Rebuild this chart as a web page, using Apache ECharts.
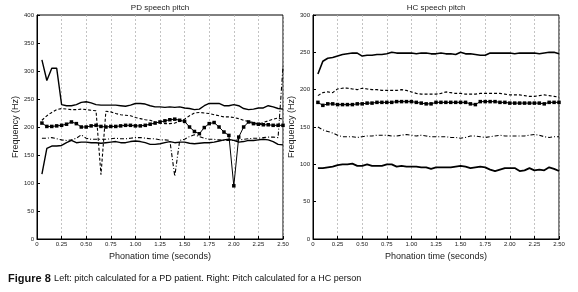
<!DOCTYPE html>
<html><head><meta charset="utf-8">
<script src="https://cdn.jsdelivr.net/npm/echarts@6/dist/echarts.min.js"></script>
<style>html,body{margin:0;padding:0;background:#fff}#c{width:578px;height:292px}</style>
</head><body><div id="c"></div>
<script>
const times = [0.05,0.10,0.15,0.20,0.25,0.30,0.35,0.40,0.45,0.50,0.55,0.60,0.65,0.70,0.75,0.80,0.85,0.90,0.95,1.00,1.05,1.10,1.15,1.20,1.25,1.30,1.35,1.40,1.45,1.50,1.55,1.60,1.65,1.70,1.75,1.80,1.85,1.90,1.95,2.00,2.05,2.10,2.15,2.20,2.25,2.30,2.35,2.40,2.45,2.50];

const pdSolidTop = [320,283,305,305,240,238,238,240,244,245,243,240,239,239,239,239,238,237,239,242,242,241,238,236,236,235,236,235,236,234,233,231,232,238,242,242,242,238,238,240,238,233,231,232,234,234,238,236,233,232];
const pdDashed = [212,220,226,231,233,232,231,231,232,231,230,229,115,228,227,224,222,221,220,217,215,213,212,209,207,206,206,207,210,214,220,225,226,225,224,222,220,218,218,217,215,212,210,208,205,208,211,214,216,214];
const pdSquares = [207,201,201,202,203,205,209,206,200,200,202,203,201,200,201,201,202,203,203,202,202,203,205,207,209,211,213,214,212,210,200,192,188,199,206,208,200,191,185,95,182,200,209,206,205,204,204,203,203,203];
const pdDashDot = [180,180,181,179,177,176,177,180,186,180,178,178,178,178,179,180,179,179,180,181,181,180,179,179,177,177,176,112,176,178,183,186,183,180,178,178,177,176,176,176,177,178,179,180,180,181,182,182,181,308];
const pdSolidLow = [116,162,166,166,167,172,176,172,173,173,172,172,171,172,173,174,172,172,174,175,174,172,169,169,170,172,174,172,173,173,171,170,171,172,172,173,175,177,178,176,173,174,176,176,177,178,177,174,169,168];

const hcSolidTop = [221,238,242,243,245,247,248,249,249,245,246,246,247,247,248,250,249,249,249,249,248,249,249,248,248,249,248,248,247,250,248,248,247,246,246,249,249,249,249,249,248,249,249,249,249,248,249,250,250,248];
const hcDashed = [192,196,197,196,201,202,202,201,200,202,201,200,200,199,199,199,199,200,199,197,195,194,194,194,194,195,197,196,195,195,194,194,194,195,195,195,195,195,194,193,193,193,192,191,191,192,193,192,191,190];
const hcSquares = [183,179,181,181,180,180,180,180,181,181,182,182,183,183,183,183,184,184,184,184,183,182,181,181,183,183,183,183,183,183,183,181,180,184,184,184,184,183,183,182,182,182,182,182,182,182,181,183,183,183];
const hcDashDot = [150,146,144,142,139,137,137,137,136,137,138,138,139,139,139,138,138,139,140,139,138,139,138,137,137,137,137,136,136,135,136,138,138,137,136,137,138,139,138,138,138,138,138,139,140,139,137,136,137,137];
const hcSolidLow = [95,95,96,97,99,100,100,101,98,98,100,98,98,98,100,100,97,98,97,97,97,96,96,94,96,96,96,96,97,98,97,95,96,97,96,93,91,93,95,95,95,91,92,95,92,93,92,96,94,91];

const titles = ['PD speech pitch','HC speech pitch'];
const yMax = [400, 300];

const pair = arr => arr.map((v,i)=>[times[i], v]);
const chart = echarts.init(document.getElementById('c'));
const FONT = 'Liberation Sans, Arial, sans-serif';

const grids = [
  {left:37, top:15, width:246, height:224, show:true, borderColor:'#000', borderWidth:1},
  {left:313, top:15, width:246, height:224, show:true, borderColor:'#000', borderWidth:1}
];
function xAxis(i){
  return {type:'value', gridIndex:i, min:0, max:2.5, interval:0.25,
    name:'Phonation time (seconds)', nameLocation:'middle', nameGap:7,
    nameTextStyle:{fontFamily:FONT, fontSize:9, color:'#222', verticalAlign:'top'},
    axisLine:{show:true, lineStyle:{color:'#000', width:1}},
    axisTick:{show:true, inside:true, length:3, lineStyle:{color:'#000'}},
    axisLabel:{fontFamily:FONT, fontSize:6, color:'#222', margin:2,
      formatter:v=> v===0 ? '0' : v.toFixed(2)},
    splitLine:{show:true, lineStyle:{color:'#b4b4b4', type:[2,2], width:0.8}}};
}
function yAxis(i){
  return {type:'value', gridIndex:i, min:0, max:yMax[i], interval:50,
    name:'Frequency (Hz)', nameLocation:'middle', nameGap:15,
    nameTextStyle:{fontFamily:FONT, fontSize:9, color:'#222'},
    axisLine:{show:true, lineStyle:{color:'#000', width:1}},
    axisTick:{show:true, inside:true, length:3, lineStyle:{color:'#000'}},
    axisLabel:{fontFamily:FONT, fontSize:6, color:'#222', margin:3},
    splitLine:{show:false}};
}
function line(i, data, type, width, sym){
  return {type:'line', xAxisIndex:i, yAxisIndex:i, data:pair(data),
    symbol: sym ? 'rect' : 'none', symbolSize:3.5, showSymbol:!!sym,
    itemStyle:{color:'#000'},
    lineStyle:{color:'#000', width:width, type:type}, animation:false, silent:true};
}
const dashDot = [4,2,1,2];
chart.setOption({
  backgroundColor:'#fff',
  title: titles.map((t,i)=>({text:t, left: i===0 ? 160 : 436, top:4, padding:0, textAlign:'center',
    textStyle:{fontFamily:FONT, fontSize:8, fontWeight:'normal', color:'#222'}})),
  grid: grids,
  xAxis:[xAxis(0), xAxis(1)],
  yAxis:[yAxis(0), yAxis(1)],
  series:[
    line(0, pdSolidTop, 'solid', 1.4, false),
    line(0, pdDashed, [3,2], 1.1, false),
    line(0, pdSquares, 'solid', 1, true),
    line(0, pdDashDot, dashDot, 1.1, false),
    line(0, pdSolidLow, 'solid', 1.4, false),
    line(1, hcSolidTop, 'solid', 1.6, false),
    line(1, hcDashed, [3,2], 1.1, false),
    line(1, hcSquares, 'solid', 1, true),
    line(1, hcDashDot, dashDot, 1.1, false),
    line(1, hcSolidLow, 'solid', 1.8, false)
  ],
  graphic:[{type:'text', left:8, top:273,
    style:{text:'{b|Figure 8} {n|Left: pitch calculated for a PD patient. Right: Pitch calculated for a HC person}',
      rich:{b:{fontFamily:FONT, fontSize:11, fontWeight:'bold', fill:'#111'},
            n:{fontFamily:FONT, fontSize:9, fill:'#111'}}}}]
});
</script></body></html>
